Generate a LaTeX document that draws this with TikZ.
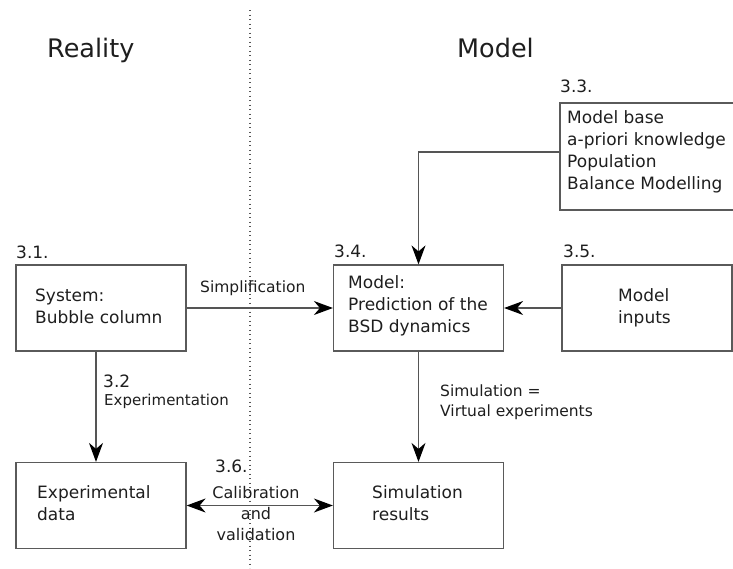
\documentclass[tikz,border=0pt]{standalone}
\usepackage{fontspec}
\setmainfont{DejaVu Sans}
\usetikzlibrary{arrows.meta}
\definecolor{linecol}{HTML}{555555}
\definecolor{boxcol}{HTML}{5A5A5A}
\definecolor{textcol}{HTML}{1E1E1E}
\begin{document}
\begin{tikzpicture}[x=1pt,y=-1pt,
  box/.style={draw=boxcol, line width=1.2pt, minimum width=170pt, minimum height=86pt, inner sep=0pt},
  txt/.style={font=\fontsize{17}{22}\selectfont, align=left, inner sep=0pt, text=textcol},
  lbl/.style={font=\fontsize{15.5}{19.5}\selectfont, align=left, inner sep=0pt, text=textcol},
  num/.style={font=\fontsize{17}{22}\selectfont, inner sep=0pt, text=textcol},
  head/.style={font=\fontsize{25.5}{30}\selectfont, inner sep=0pt, text=textcol},
  conn/.style={draw=linecol, line width=1.3pt, -{Stealth[length=19pt,width=14pt,inset=6pt,color=black]}},
  dconn/.style={draw=linecol, line width=1.3pt, {Stealth[length=19pt,width=14pt,inset=6pt,color=black]}-{Stealth[length=19pt,width=14pt,inset=6pt,color=black]}},
  divider/.style={draw=linecol, line width=1.2pt, dash pattern=on 1.2pt off 3.3pt}
]
\useasboundingbox (0,0) rectangle (733,568);

% divider
\coordinate (dtop) at (250,10);
\coordinate (dbot) at (250,568);
\draw[divider] (dtop) -- (dbot);

% headers
\node[head, anchor=base west] (hreal) at (47,57) {Reality};
\node[head, anchor=base west] (hmod) at (457,57) {Model};

% boxes
\node[box] (sys) at (101,308) {};
\node[box] (exp) at (101,505.5) {};
\node[box] (mod) at (418.5,308) {};
\node[box] (sim) at (418.5,505.5) {};
\node[box] (inp) at (647,308) {};
\node[box, minimum width=200pt, minimum height=107pt] (base) at (660,156.5) {};

% box texts (base = last line baseline)
\node[txt, anchor=base west] (tsys) at (35,323) {System:\\Bubble column};
\node[txt, anchor=base west] (tmod) at (348,332) {Model:\\Prediction of the\\BSD dynamics};
\node[txt, anchor=base west] (tinp) at (618,323) {Model\\inputs};
\node[txt, anchor=base west] (texp) at (37,520) {Experimental\\data};
\node[txt, anchor=base west] (tsim) at (372,520) {Simulation\\results};
\node[txt, anchor=base west] (tbase) at (567,189) {Model base\\a-priori knowledge\\Population\\Balance Modelling};

% numbers
\node[num, anchor=base west] (n31) at (16,258) {3.1.};
\node[num, anchor=base west] (n34) at (334,257) {3.4.};
\node[num, anchor=base west] (n35) at (563,257) {3.5.};
\node[num, anchor=base west] (n33) at (560,92) {3.3.};
\node[num, anchor=base west] (n32) at (103,387) {3.2};
\node[num, anchor=base west] (n36) at (215,472) {3.6.};

% labels
\node[lbl, anchor=base west] (lsimp) at (200,292) {Simplification};
\node[lbl, font=\fontsize{15}{19}\selectfont, anchor=base west] (lexp) at (104,405) {Experimentation};
\node[lbl, anchor=base west] (lsim) at (440,416) {Simulation =\\Virtual experiments};
\node[lbl, font=\fontsize{16}{21}\selectfont, align=center, anchor=base] (lcal) at (256,540) {Calibration\\and\\validation};

% connectors
\draw[conn] (sys.east) -- (mod.west);
\draw[conn] (inp.west) -- (mod.east);
\draw[conn] ([xshift=-5pt]sys.south) -- ([xshift=-5pt]exp.north);
\draw[conn] (mod.south) -- (sim.north);
\draw[conn] ([yshift=4.5pt]base.west) -| (mod.north);
\draw[dconn] (exp.east) -- (sim.west);
\end{tikzpicture}
\end{document}
